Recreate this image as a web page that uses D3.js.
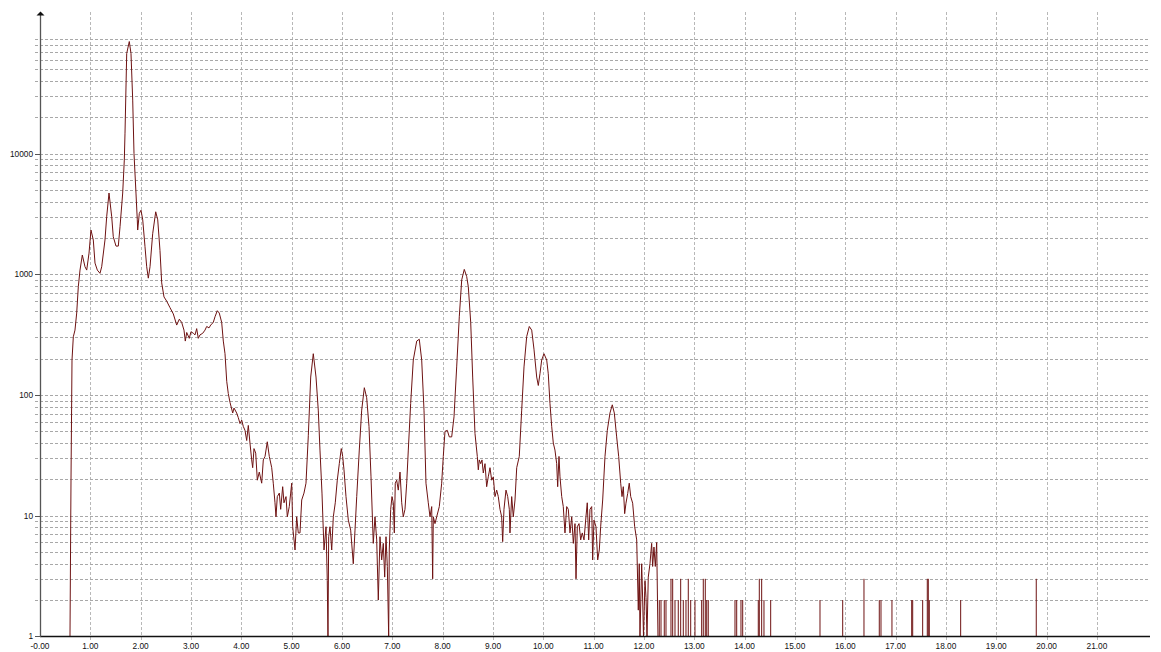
<!DOCTYPE html>
<html>
<head>
<meta charset="utf-8">
<script src="https://cdn.jsdelivr.net/npm/d3@7"></script>
<style>
  body { margin: 0; background: #fff; }
  svg { display: block; }
  .tick-label { font-family: "Liberation Sans", Arial, sans-serif; font-size: 8.3px; fill: #111; }
</style>
</head>
<body>
<script>
// counts vs time (log scale, 0 counts drawn at 1)
const xTickValues = d3.range(0, 22);
const xTickLabels = ["-0.00", "1.00", "2.00", "3.00", "4.00", "5.00", "6.00", "7.00", "8.00", "9.00",
  "10.00", "11.00", "12.00", "13.00", "14.00", "15.00", "16.00", "17.00", "18.00", "19.00", "20.00", "21.00"];
const yTickValues = [1, 10, 100, 1000, 10000];
const yTickLabels = ["1", "10", "100", "1000", "10000"];

// main trace [time, counts]
const trace = [
  [0.596, 1], [0.616, 20], [0.636, 195], [0.662, 304], [0.695, 345], [0.729, 478], [0.761, 789],
  [0.795, 1085], [0.841, 1446], [0.894, 1156], [0.928, 1085], [0.974, 1500], [1.013, 2330],
  [1.059, 1925], [1.093, 1240], [1.139, 1085], [1.192, 1020], [1.226, 1156], [1.291, 1925],
  [1.325, 3000], [1.371, 4720], [1.425, 3000], [1.456, 2050], [1.510, 1715], [1.556, 1715],
  [1.590, 2480], [1.643, 4720], [1.675, 8850], [1.689, 14800], [1.723, 67700], [1.774, 85000],
  [1.808, 67700], [1.842, 27800], [1.868, 10000], [1.907, 4720], [1.933, 2830], [1.941, 2330],
  [1.973, 3200], [2.007, 3400], [2.041, 2830], [2.086, 1700], [2.120, 1156], [2.152, 930],
  [2.186, 1156], [2.239, 2170], [2.299, 3300], [2.339, 2830], [2.384, 1580], [2.418, 850],
  [2.464, 650], [2.517, 600], [2.583, 530], [2.649, 470], [2.716, 380], [2.768, 425], [2.815, 400],
  [2.861, 345], [2.887, 280], [2.915, 330], [2.966, 295], [3.000, 335], [3.046, 325], [3.080, 315],
  [3.113, 355], [3.145, 295], [3.179, 315], [3.233, 325], [3.278, 345], [3.312, 370], [3.358, 360],
  [3.392, 380], [3.443, 400], [3.477, 445], [3.523, 500], [3.562, 478], [3.610, 400], [3.642, 280],
  [3.676, 220], [3.710, 130], [3.741, 103], [3.775, 87], [3.829, 71], [3.855, 78], [3.908, 71],
  [3.940, 65], [3.974, 58], [4.008, 62], [4.039, 55], [4.073, 51], [4.107, 42], [4.139, 56],
  [4.172, 40], [4.206, 29], [4.226, 25], [4.252, 36], [4.286, 33], [4.318, 19.7], [4.357, 23],
  [4.405, 18.6], [4.437, 29], [4.471, 31], [4.516, 41], [4.556, 31], [4.604, 25], [4.635, 18.6],
  [4.669, 12.8], [4.689, 9.8], [4.715, 14.4], [4.755, 15.4], [4.782, 11.3], [4.822, 17.4],
  [4.848, 12.8], [4.888, 14.4], [4.914, 9.8], [4.953, 11.9], [4.981, 15.4], [5.001, 18.6],
  [5.021, 8.1], [5.067, 5.2], [5.100, 9.8], [5.132, 7.2], [5.166, 7.2], [5.200, 13.5], [5.245, 15.4],
  [5.285, 18.6], [5.331, 46], [5.379, 141], [5.430, 220], [5.484, 141], [5.529, 75], [5.563, 35],
  [5.603, 15.4], [5.643, 5.2], [5.683, 8.1], [5.708, 2.9], [5.722, 1], [5.736, 6.7], [5.762, 8.1],
  [5.796, 5.2], [5.828, 9.8], [5.867, 12.8], [5.907, 19.7], [5.947, 27], [5.986, 36], [6.014, 31],
  [6.040, 24], [6.080, 14.4], [6.126, 9.2], [6.173, 7.6], [6.225, 4], [6.259, 7.6], [6.293, 14.4],
  [6.344, 35], [6.392, 75], [6.444, 115], [6.491, 95], [6.537, 55], [6.577, 21], [6.622, 5.9],
  [6.656, 9.8], [6.690, 6.3], [6.722, 2], [6.755, 6.7], [6.789, 4.3], [6.821, 5.9], [6.849, 3.1],
  [6.875, 6.7], [6.901, 3.8], [6.928, 1], [6.940, 5.2], [6.968, 11.3], [6.994, 14.4], [7.020, 12.8],
  [7.040, 7.2], [7.059, 18.6], [7.087, 19.7], [7.119, 16.3], [7.153, 23], [7.187, 12.8], [7.218, 9.8],
  [7.252, 11.3], [7.286, 18.6], [7.318, 35], [7.365, 85], [7.417, 195], [7.485, 280], [7.536, 290],
  [7.584, 195], [7.630, 75], [7.669, 18.6], [7.715, 12.8], [7.749, 9.8], [7.783, 11.9], [7.802, 3],
  [7.815, 9.8], [7.848, 8.6], [7.882, 9.8], [7.934, 11.9], [7.981, 18.6], [8.013, 31], [8.047, 50],
  [8.093, 51], [8.132, 45], [8.180, 45], [8.226, 66], [8.279, 171], [8.331, 445], [8.379, 900],
  [8.430, 1100], [8.478, 960], [8.510, 790], [8.558, 400], [8.597, 141], [8.643, 48], [8.689, 31],
  [8.709, 24], [8.728, 29], [8.756, 27], [8.782, 29], [8.808, 22.6], [8.842, 27], [8.875, 17.4],
  [8.907, 21], [8.941, 25], [8.975, 19.7], [9.007, 21], [9.040, 14.4], [9.074, 16.3], [9.106, 14.4],
  [9.140, 11.3], [9.173, 9.8], [9.193, 6.1], [9.219, 11.3], [9.259, 16.3], [9.293, 14.4],
  [9.325, 11.3], [9.338, 7.2], [9.372, 14.4], [9.404, 9.8], [9.438, 13.5], [9.472, 25], [9.523, 31],
  [9.571, 75], [9.617, 171], [9.670, 305], [9.722, 370], [9.770, 345], [9.815, 240], [9.869, 141],
  [9.901, 120], [9.934, 150], [9.968, 195], [10.014, 220], [10.068, 195], [10.099, 150],
  [10.133, 85], [10.167, 55], [10.199, 40], [10.232, 35], [10.266, 27], [10.286, 17.4], [10.312, 31],
  [10.332, 21], [10.366, 14.4], [10.397, 11.9], [10.431, 7.2], [10.465, 11.9], [10.497, 11.3],
  [10.531, 7.2], [10.565, 9.8], [10.597, 5.9], [10.630, 8.6], [10.650, 3], [10.676, 8.1],
  [10.710, 8.6], [10.743, 6.3], [10.775, 7.2], [10.809, 6.3], [10.848, 9.8], [10.874, 12.8],
  [10.902, 6.3], [10.928, 11.3], [10.962, 11.9], [10.981, 4.3], [11.007, 9.2], [11.047, 8.1],
  [11.081, 4.3], [11.113, 5.2], [11.140, 8.1], [11.180, 13.5], [11.226, 31], [11.272, 51],
  [11.325, 71], [11.371, 83], [11.411, 71], [11.458, 45], [11.498, 31], [11.538, 18.6],
  [11.564, 14.4], [11.590, 17.4], [11.617, 10.4], [11.643, 12.7], [11.677, 15.3], [11.708, 18.6],
  [11.737, 14.4], [11.776, 12.7], [11.816, 8.1], [11.856, 6.3], [11.888, 1.65], [11.907, 4],
  [11.921, 1], [11.955, 4], [11.975, 2], [11.991, 1], [12.021, 2.9], [12.041, 2.1], [12.061, 1],
  [12.086, 3.1], [12.120, 4], [12.153, 5.9], [12.173, 3.8], [12.199, 5.5], [12.226, 3.8],
  [12.253, 6], [12.279, 1]
];

// isolated single-count spikes in the tail [time, counts]
const tailSpikes = [
  [12.305, 2], [12.339, 2], [12.404, 2], [12.438, 2], [12.537, 3], [12.571, 3], [12.617, 2],
  [12.682, 2], [12.730, 3], [12.782, 2], [12.835, 2], [12.881, 3], [12.929, 2], [13.014, 2],
  [13.147, 2], [13.179, 3], [13.219, 3], [13.247, 2], [13.278, 2], [13.809, 2], [13.843, 2],
  [13.928, 2], [13.962, 2], [14.272, 2], [14.292, 3], [14.339, 3], [14.385, 2], [14.518, 2],
  [15.498, 2], [15.949, 2], [16.372, 3], [16.676, 2], [16.710, 2], [16.928, 2], [17.320, 2],
  [17.340, 2], [17.538, 2], [17.630, 3], [17.650, 3], [17.670, 2], [18.293, 2], [19.795, 3]
];

const svgWidth = 1161;
const svgHeight = 652;
const plotLeft = 40, plotRight = 1150, plotBottom = 636.4, plotTop = 33;
const traceColor = "#6e1212";

const x = d3.scaleLinear().domain([0, 22.055]).range([plotLeft, plotRight]);
const y = d3.scaleLog().domain([1, 100000]).range([plotBottom, plotTop]);

const svg = d3.select("body").append("svg")
  .attr("width", svgWidth)
  .attr("height", svgHeight);

// vertical grid
svg.append("g")
  .selectAll("line")
  .data(xTickValues.filter((d) => d > 0))
  .join("line")
  .attr("x1", (d) => Math.round(x(d)) + 0.5)
  .attr("x2", (d) => Math.round(x(d)) + 0.5)
  .attr("y1", 12)
  .attr("y2", 641)
  .attr("stroke", "#b8b8b8")
  .attr("stroke-dasharray", "3,2");

// horizontal grid, every 1..9 x decade
const gridVals = [];
for (let dec = 1; dec <= 10000; dec *= 10) {
  for (let k = 1; k <= 9; k++) {
    if (dec * k > 1) gridVals.push(dec * k);
  }
}
svg.append("g")
  .selectAll("line")
  .data(gridVals)
  .join("line")
  .attr("x1", 35)
  .attr("x2", plotRight)
  .attr("y1", (d) => Math.round(y(d)) + 0.5)
  .attr("y2", (d) => Math.round(y(d)) + 0.5)
  .attr("stroke", "#a8a8a8")
  .attr("stroke-dasharray", "3,2");

// trace + spikes
const line = d3.line().x((d) => x(d[0])).y((d) => y(d[1]));
svg.append("path")
  .datum(trace)
  .attr("d", line)
  .attr("fill", "none")
  .attr("stroke", traceColor)
  .attr("stroke-width", 1);

// spikes sit between pixels so they anti-alias like the rest of the trace
svg.append("g")
  .selectAll("line")
  .data(tailSpikes)
  .join("line")
  .attr("x1", (d) => x(d[0]))
  .attr("x2", (d) => x(d[0]))
  .attr("y1", y(1))
  .attr("y2", (d) => y(d[1]))
  .attr("stroke", traceColor)
  .attr("stroke-width", 1);

// axes
svg.append("line")
  .attr("x1", plotLeft).attr("x2", plotRight)
  .attr("y1", 636.5).attr("y2", 636.5)
  .attr("stroke", "#111").attr("stroke-width", 1.3);

svg.append("line")
  .attr("x1", plotLeft + 0.5).attr("x2", plotLeft + 0.5)
  .attr("y1", 14).attr("y2", 637)
  .attr("stroke", "#555").attr("stroke-width", 1.3);

svg.append("path")
  .attr("d", "M36.5,15.5L44.5,15.5L40.5,11.5Z")
  .attr("fill", "#111");

svg.append("g")
  .selectAll("text")
  .data(yTickValues)
  .join("text")
  .attr("class", "tick-label")
  .attr("x", 33)
  .attr("y", (d) => y(d) + 3)
  .attr("text-anchor", "end")
  .text((d, i) => yTickLabels[i]);

svg.append("g")
  .selectAll("line")
  .data(yTickValues)
  .join("line")
  .attr("x1", 35).attr("x2", plotLeft)
  .attr("y1", (d) => Math.round(y(d)) + 0.5)
  .attr("y2", (d) => Math.round(y(d)) + 0.5)
  .attr("stroke", "#555");

svg.append("g")
  .selectAll("text")
  .data(xTickValues)
  .join("text")
  .attr("class", "tick-label")
  .attr("x", (d) => x(d))
  .attr("y", 649)
  .attr("text-anchor", "middle")
  .text((d, i) => xTickLabels[i]);
</script>
</body>
</html>
